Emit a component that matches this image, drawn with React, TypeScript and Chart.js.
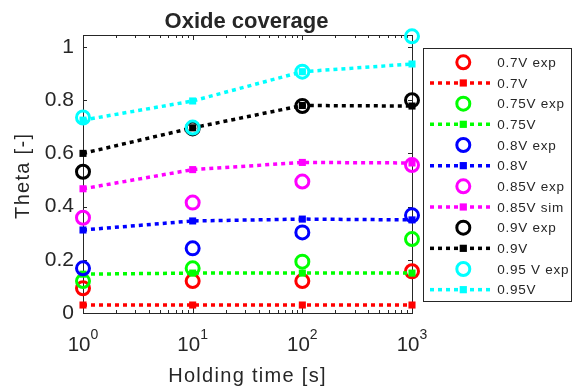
import React, { useEffect, useRef } from "react";
import { Chart, registerables } from "chart.js";

Chart.register(...registerables);

// ---- data ----
const xValues = [1, 10, 100, 1000];
const xTickValues = [1, 10, 100, 1000];
const xTickExponents = ["0", "1", "2", "3"];
const yTickValues = [0, 0.2, 0.4, 0.6, 0.8, 1];

const exp07 = [0.093, 0.12, 0.12, 0.157];
const sim07 = [0.03, 0.03, 0.03, 0.03];
const exp075 = [0.12, 0.168, 0.193, 0.278];
const sim075 = [0.146, 0.15, 0.15, 0.15];
const exp08 = [0.168, 0.243, 0.303, 0.367];
const sim08 = [0.312, 0.346, 0.353, 0.35];
const exp085 = [0.358, 0.415, 0.494, 0.556];
const sim085 = [0.467, 0.539, 0.566, 0.564];
const exp09 = [0.531, 0.694, 0.778, 0.8];
const sim09 = [0.6, 0.696, 0.78, 0.778];
const exp095 = [0.735, 0.697, 0.907, 1.04];
const sim095 = [0.725, 0.797, 0.907, 0.936];

const legendLabels = [
  "0.7V exp", "0.7V",
  "0.75V exp", "0.75V",
  "0.8V exp", "0.8V",
  "0.85V exp", "0.85V sim",
  "0.9V exp", "0.9V",
  "0.95 V exp", "0.95V",
];
const seriesColors = ["#ff0000", "#00ff00", "#0000ff", "#ff00ff", "#000000", "#00ffff"];
const seriesValues = [exp07, sim07, exp075, sim075, exp08, sim08, exp085, sim085, exp09, sim09, exp095, sim095];

const titleText = "Oxide coverage";
const xTitle = "Holding time [s]";
const yTitle = "Theta [-]";

const FONT = '"Liberation Sans", Arial, Helvetica, sans-serif';
const TEXT = "#262626";
const AXIS = "#262626";
const DASH = [4, 4];

const decor = {
  id: "decor",
  beforeDatasetsDraw(chart: any) {
    const ctx = chart.ctx;
    const { left, right, top, bottom } = chart.chartArea;
    const xs = chart.scales.x;
    const ys = chart.scales.y;
    ctx.save();
    ctx.strokeStyle = AXIS;
    ctx.lineWidth = 1;
    ctx.strokeRect(Math.round(left) + 0.5, Math.round(top) + 0.5, Math.round(right - left), Math.round(bottom - top));
    ctx.beginPath();
    // y ticks
    for (const v of yTickValues) {
      const y = Math.round(ys.getPixelForValue(v)) + 0.5;
      ctx.moveTo(left, y); ctx.lineTo(left + 4, y);
      ctx.moveTo(right, y); ctx.lineTo(right - 4, y);
    }
    // x ticks (major + minor)
    for (let d = 0; d < 3; d++) {
      for (let m = 1; m <= 9; m++) {
        const v = m * Math.pow(10, d);
        const x = Math.round(xs.getPixelForValue(v)) + 0.5;
        const len = m === 1 ? 5 : 3;
        ctx.moveTo(x, bottom); ctx.lineTo(x, bottom - len);
        ctx.moveTo(x, top); ctx.lineTo(x, top + len);
      }
    }
    ctx.stroke();
    ctx.restore();
  },
  afterDraw(chart: any) {
    const ctx = chart.ctx;
    const { left, right, top, bottom } = chart.chartArea;
    const xs = chart.scales.x;
    ctx.save();
    ctx.fillStyle = TEXT;
    // title
    ctx.font = `bold 22px ${FONT}`;
    ctx.textAlign = "center";
    ctx.textBaseline = "alphabetic";
    ctx.fillText(titleText, (left + right) / 2 - 1, 27.5);
    // x tick labels 10^n
    xTickValues.forEach((v, i) => {
      const x = xs.getPixelForValue(v);
      ctx.font = `20.5px ${FONT}`;
      const w1 = ctx.measureText("10").width;
      ctx.font = `14px ${FONT}`;
      const w2 = ctx.measureText(xTickExponents[i]).width;
      const start = x - (w1 + w2) / 2;
      ctx.textAlign = "left";
      ctx.font = `20.5px ${FONT}`;
      ctx.fillText("10", start, 350.7);
      ctx.font = `14px ${FONT}`;
      ctx.fillText(xTickExponents[i], start + w1, 339.3);
    });
    // x title
    (ctx as any).letterSpacing = "1.3px";
    ctx.font = `20px ${FONT}`;
    ctx.textAlign = "center";
    ctx.fillText(xTitle, (left + right) / 2, 381.5);
    // y title
    ctx.save();
    ctx.translate(28.5, 175.8);
    ctx.rotate(-Math.PI / 2);
    ctx.fillText(yTitle, 0, 0);
    ctx.restore();
    (ctx as any).letterSpacing = "0px";

    // legend
    const lx = 423.5, ly = 48.5, lw = 148, lh = 253;
    ctx.fillStyle = "#ffffff";
    ctx.fillRect(lx, ly, lw, lh);
    ctx.strokeStyle = AXIS;
    ctx.lineWidth = 1;
    ctx.strokeRect(lx, ly, lw, lh);
    const rowStep = 20.67;
    legendLabels.forEach((label, i) => {
      const cy = 62.3 + i * rowStep;
      const color = seriesColors[Math.floor(i / 2)];
      const mx = 463.3;
      if (i % 2 === 0) {
        ctx.beginPath();
        ctx.arc(mx, cy, 6.5, 0, Math.PI * 2);
        ctx.strokeStyle = color;
        ctx.lineWidth = 3;
        ctx.stroke();
      } else {
        ctx.beginPath();
        ctx.setLineDash(DASH);
        ctx.moveTo(430, cy);
        ctx.lineTo(493, cy);
        ctx.strokeStyle = color;
        ctx.lineWidth = 3.5;
        ctx.stroke();
        ctx.setLineDash([]);
        ctx.fillStyle = color;
        ctx.fillRect(mx - 3.6, cy - 3.6, 7.2, 7.2);
      }
      ctx.fillStyle = TEXT;
      (ctx as any).letterSpacing = "0.75px";
      ctx.font = `13.5px ${FONT}`;
      ctx.textAlign = "left";
      ctx.textBaseline = "alphabetic";
      ctx.fillText(label, 497.3, cy + 4.8);
      (ctx as any).letterSpacing = "0px";
    });
    ctx.restore();
  },
};

export default function App() {
  const ref = useRef<HTMLCanvasElement | null>(null);
  useEffect(() => {
    if (!ref.current) return;
    const n = seriesValues.length;
    const datasets = seriesValues.map((vals, i) => {
      const color = seriesColors[Math.floor(i / 2)];
      const isExp = i % 2 === 0;
      const data = xValues.map((x, k) => ({ x, y: vals[k] }));
      if (isExp) {
        return {
          label: legendLabels[i],
          data,
          showLine: false,
          pointStyle: "circle",
          pointRadius: 6.5,
          pointBorderWidth: 3,
          pointBorderColor: color,
          pointBackgroundColor: "rgba(0,0,0,0)",
          borderColor: color,
          backgroundColor: "rgba(0,0,0,0)",
          clip: false,
          order: n - i,
        };
      }
      return {
        label: legendLabels[i],
        data,
        showLine: true,
        borderColor: color,
        borderWidth: 3.5,
        borderDash: DASH,
        tension: 0,
        pointStyle: "rect",
        pointRadius: 5,
        pointBorderWidth: 0,
        pointBackgroundColor: color,
        backgroundColor: color,
        clip: false,
        order: n - i,
      };
    });
    const chart = new Chart(ref.current, {
      type: "line",
      data: { datasets } as any,
      options: {
        animation: false,
        responsive: false,
        devicePixelRatio: 1,
        layout: { padding: { left: 0, right: 162, top: 35, bottom: 73 } },
        plugins: { legend: { display: false }, tooltip: { enabled: false }, title: { display: false } },
        scales: {
          x: { type: "logarithmic", min: 1, max: 1000, display: false },
          y: {
            type: "linear",
            min: 0,
            max: 1.045,
            position: "left",
            afterFit: (s: any) => { s.width = 83; },
            afterBuildTicks: (s: any) => { s.ticks = yTickValues.map((v) => ({ value: v })); },
            grid: { display: false, drawTicks: false },
            border: { display: false },
            ticks: {
              padding: 9,
              color: TEXT,
              font: { family: FONT, size: 21 },
              callback: (v: any) => String(v),
            },
          },
        },
      } as any,
      plugins: [decor],
    });
    return () => chart.destroy();
  }, []);
  return (
    <div style={{ position: "absolute", left: 0, top: 0, width: 574, height: 386, background: "#fff" }}>
      <canvas ref={ref} width={574} height={386} style={{ display: "block" }} />
    </div>
  );
}
